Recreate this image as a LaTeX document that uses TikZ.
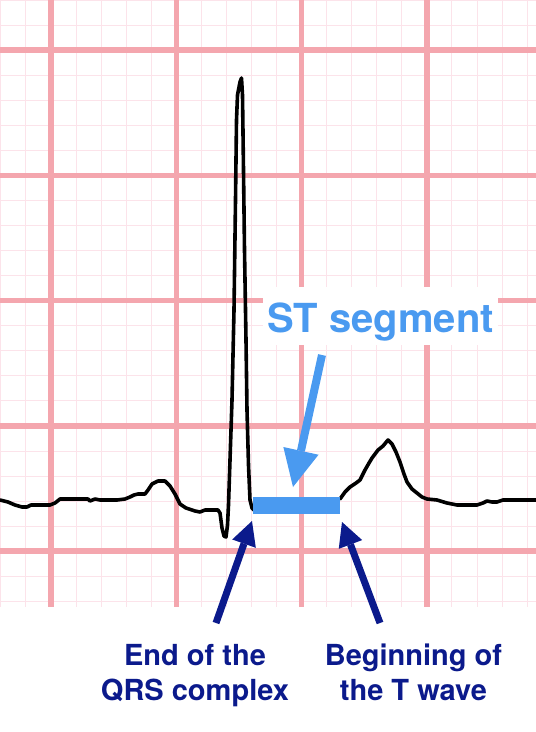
\documentclass[tikz,border=0pt]{standalone}
\usepackage{fontspec}
\setmainfont{TeX Gyre Heros}
\usetikzlibrary{arrows.meta}
\definecolor{majorgrid}{HTML}{F4A6AE}
\definecolor{minorgrid}{HTML}{FCE3EA}
\definecolor{stblue}{HTML}{4A9AF0}
\definecolor{navy}{HTML}{0B1A8C}
\begin{document}
\begin{tikzpicture}[x=1pt,y=-1pt,
  minorline/.style={minorgrid, line width=1pt},
  majorline/.style={majorgrid, line width=5.5pt},
  trace/.style={black, line width=3.6pt, line join=round, line cap=round},
  bluearrow/.style={stblue, line width=8pt, -{Triangle[length=37pt,width=36pt,line width=0pt]}},
  navyarrow/.style={navy, line width=7pt, -{Triangle[length=24pt,width=25pt,line width=0pt]}},
  caption/.style={navy, font=\bfseries\fontsize{29}{35}\selectfont, align=center, inner sep=0pt},
  stlabel/.style={fill=white, text=stblue, font=\bfseries\fontsize{40}{48}\selectfont,
    minimum width=235pt, minimum height=58pt, inner sep=0pt, text height=32pt, text depth=0pt},
  stbar/.style={fill=stblue, minimum width=87pt, minimum height=17pt, inner sep=0pt},
]
\useasboundingbox (0,0) rectangle (536,732);
\fill[white] (0,0) rectangle (536,732);
% grid
\foreach \i in {0,...,21} \draw[minorline] ({0.9+\i*25.06},0) -- ({0.9+\i*25.06},607);
\foreach \j in {0,...,24} \draw[minorline] (0,{\j*25.06}) -- (536,{\j*25.06});
\foreach \i in {0,...,3} \draw[majorline] ({51+\i*125.3},0) -- ({51+\i*125.3},607);
\foreach \j in {0,...,4} \draw[majorline] (0,{50+\j*125.3}) -- (536,{50+\j*125.3});
% label
\node[stlabel] (stl) at (380.5,316) {ST segment};
% ECG trace
\draw[trace] (0,500) -- (8,502) -- (15,505) -- (22,507) -- (27,507) -- (31,505) -- (50,505)
  -- (55,503) -- (60,499) -- (88,499) -- (90,501) -- (95,499) -- (100,500) -- (117,500)
  -- (125,499) -- (130,497) -- (134,495) -- (138,494) -- (145,494) -- (148,490)
  -- (152,484) -- (158,481) -- (165,481) -- (170,486) -- (175,494) -- (180,504)
  -- (186,508) -- (195,511) -- (200,512) -- (205,510) -- (218,510) -- (220,513)
  -- (222,528) -- (224,536) -- (226,537) -- (227.5,525) -- (228.5,505) -- (230,460)
  -- (232,400) -- (234,310) -- (235.5,200) -- (236.5,120) -- (237.5,95) -- (240,82)
  -- (241.5,78) -- (242.5,95) -- (243.5,170) -- (244.5,250) -- (246,340) -- (247,410)
  -- (248.5,465) -- (250,500) -- (252,508) -- (254,510);
\draw[trace] (340,499) -- (345,492) -- (350,487) -- (356,483) -- (360,480) -- (365,470)
  -- (369,463) -- (372,458) -- (378,450) -- (383,446) -- (388,440) -- (392,444)
  -- (396,452) -- (400,462) -- (404,474) -- (407,482) -- (412,489) -- (417,493)
  -- (422,497) -- (427,499) -- (437,500) -- (447,503) -- (457,505) -- (477,505)
  -- (483,503) -- (487,501) -- (492,502) -- (497,502) -- (503,500) -- (536,500);
% ST bar
\node[stbar] (stb) at (296.5,505.5) {};
% arrows
\coordinate (sttail) at (322,355);
\coordinate (sttip) at (293,487);
\draw[bluearrow] (sttail) -- (sttip);
\coordinate (qrstail) at (216,623);
\coordinate (qrstip) at (252,521);
\draw[navyarrow] (qrstail) -- (qrstip);
\coordinate (ttail) at (380,623);
\coordinate (ttip) at (342,522);
\draw[navyarrow] (ttail) -- (ttip);
% captions
\node[caption, anchor=north] (qrsl) at (195,644) {End of the\\QRS complex};
\node[caption, anchor=north] (tl) at (413.5,644) {Beginning of\\the T wave};
\end{tikzpicture}
\end{document}
